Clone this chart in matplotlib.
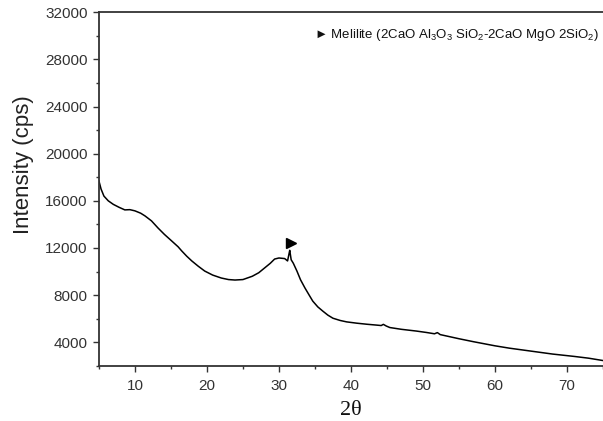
import matplotlib
matplotlib.use("Agg")
from matplotlib import pyplot as plt
from matplotlib.ticker import MultipleLocator

plt.rcParams["font.family"] = ["Liberation Sans", "DejaVu Sans"]
plt.rcParams["mathtext.fontset"] = "custom"
plt.rcParams["mathtext.rm"] = "Liberation Sans"
plt.rcParams["mathtext.default"] = "regular"

# XRD pattern (2theta, counts)
two_theta = [5.0, 5.3, 5.7, 6.3, 7.0, 7.8, 8.6, 9.3, 10.0, 10.8, 11.4, 12.3,
             13.2, 14.1, 15.1, 16.0, 16.5, 17.2, 17.9, 18.8, 19.7, 20.8, 22.0,
             23.0, 23.9, 25.0, 26.3, 27.2, 28.0, 28.8, 29.4, 30.0, 30.8, 31.2,
             31.4, 31.5, 31.7, 32.0, 32.5, 33.0, 33.6, 34.2, 34.7, 35.4, 36.1,
             36.8, 37.5, 38.5, 39.4, 40.8, 42.2, 43.5, 44.2, 44.5, 44.9, 45.4,
             47.0, 49.1, 50.5, 51.6, 52.0, 52.4, 55.0, 57.0, 60.0, 62.0, 65.0,
             68.0, 71.0, 73.0, 75.0]
intensity = [17700, 17000, 16400, 16000, 15700, 15450, 15230, 15250, 15150,
             14950, 14720, 14300, 13700, 13150, 12600, 12100, 11750, 11300,
             10900, 10450, 10040, 9700, 9450, 9320, 9280, 9320, 9600, 9900,
             10300, 10700, 11060, 11150, 11100, 10900, 11500, 11800, 11000,
             10700, 10040, 9300, 8620, 8000, 7490, 7000, 6640, 6300, 6040,
             5850, 5730, 5620, 5530, 5460, 5420, 5520, 5380, 5250, 5100, 4950,
             4830, 4720, 4820, 4650, 4300, 4050, 3700, 3500, 3250, 3000, 2800,
             2650, 2450]

# melilite peak marker
peak_x = [31.7]
peak_y = [12430]

fig = plt.figure(figsize=(6.03, 4.21), dpi=100)
ax = fig.add_axes([0.164, 0.131, 0.836, 0.84])

ax.plot(two_theta, intensity, color="black", linewidth=1.1)
ax.plot(peak_x, peak_y, marker=">", color="black", markersize=7, linestyle="none")

ax.set_xlim(5, 75)
ax.set_ylim(2000, 32000)
ax.xaxis.set_major_locator(MultipleLocator(10))
ax.xaxis.set_minor_locator(MultipleLocator(5))
ax.set_yticks([4000, 8000, 12000, 16000, 20000, 24000, 28000, 32000])
ax.yaxis.set_minor_locator(MultipleLocator(2000))
ax.tick_params(which="both", direction="out", colors="#333333", labelsize=11)
ax.tick_params(which="major", length=4.5, width=1)
ax.tick_params(which="minor", length=2.5, width=1)
ax.tick_params(axis="x", pad=5)

for s in ["left", "bottom", "top"]:
    ax.spines[s].set_color("#333333")
    ax.spines[s].set_linewidth(1.3)
ax.spines["right"].set_visible(False)

ax.set_ylabel("Intensity (cps)", fontsize=16, color="#222222")
ax.yaxis.set_label_coords(-0.128, 0.57)
ax.set_xlabel("2\u03b8", fontsize=16, family="Liberation Serif", color="#111111", labelpad=6)

ax.text(0.992, 0.935, "\u25ba Melilite (2CaO Al$_3$O$_3$ SiO$_2$-2CaO MgO 2SiO$_2$)",
        transform=ax.transAxes, ha="right", va="center", fontsize=9.5, color="#111111")

plt.savefig("out.png", dpi=100)
